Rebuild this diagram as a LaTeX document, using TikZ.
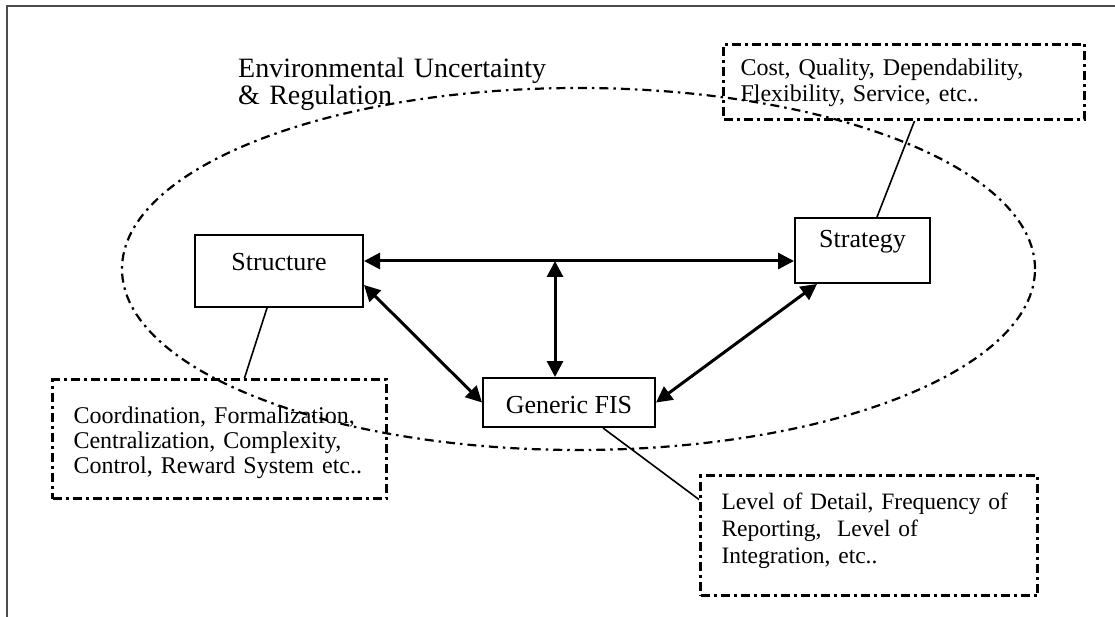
\documentclass[tikz,border=0pt]{standalone}
\usepackage{fontspec}
\setmainfont{Liberation Serif}
\usetikzlibrary{arrows.meta,calc}

\begin{document}
\begin{tikzpicture}[x=1pt,y=-1pt,
  box/.style={draw,line width=2pt,inner sep=0pt,font=\fontsize{26}{30}\selectfont},
  callout/.style={draw,line width=3pt,dash pattern=on 9pt off 4pt on 3pt off 4pt,
    anchor=north west,inner xsep=21pt,inner ysep=0pt,align=left},
  link/.style={line width=1.6pt},
  biarrow/.style={line width=3pt,
    {Triangle[length=16pt,width=16pt]}-{Triangle[length=16pt,width=16pt]}},
  envline/.style={line width=2.2pt,dash pattern=on 9pt off 5pt on 2.5pt off 5pt}]

\useasboundingbox (0,0) rectangle (1115,617);

% page frame
\draw[gray!60!black,line width=1.5pt] (7,617) -- (7,6) -- (1115,6);

% environment
\draw[envline] (578.5,269) ellipse [x radius=456.5pt, y radius=181pt];
\node[anchor=north west,inner sep=0pt,text width=360pt,text height=19pt,align=left,
  font=\fontsize{28}{27}\selectfont] (env) at (238,58)
  {Environmental Uncertainty\\ \& Regulation};

% main blocks
\node[box,minimum width=168pt,minimum height=72pt,text height=15pt,text depth=15pt]
  (struct) at (279,271) {Structure};
\node[box,minimum width=135pt,minimum height=65pt,text height=20pt,text depth=25pt]
  (strat) at (862.5,250.5) {Strategy};
\node[box,minimum width=172pt,minimum height=49pt,text height=31pt,text depth=9pt]
  (fis) at (569,402.5) {Generic FIS};

% attribute boxes
\node[callout,text width=292pt,text height=44pt,text depth=75pt,
  font=\fontsize{24}{25}\selectfont] (scall) at (51,378)
  {Coordination, Formalization,\\ Centralization, Complexity,\\ Control, Reward System etc..};
\node[callout,inner xsep=17pt,text width=327pt,text height=31pt,text depth=44pt,
  font=\fontsize{24}{26}\selectfont] (stcall) at (722,43)
  {Cost, Quality, Dependability,\\ Flexibility, Service, etc..};
\node[callout,text width=295pt,text height=34pt,text depth=86pt,
  font=\fontsize{23.5}{27}\selectfont] (fcall) at (699,474)
  {Level of Detail, Frequency of\\ Reporting,~ Level of\\ Integration, etc..};

% links to attribute boxes
\draw[link] ([xshift=-12pt]struct.south) -- ([xshift=25pt]scall.north);
\draw[link] ([xshift=14.5pt]strat.north) -- ([xshift=10.5pt]stcall.south);
\draw[link] ([xshift=34pt]fis.south) -- ([yshift=36pt]fcall.west);

% relationships
\coordinate (hub) at (555,261);
\draw[biarrow] ([yshift=10pt]struct.east) -- ([yshift=-10.5pt]strat.west);
\draw[biarrow] (hub) -- (hub |- fis.north);
\draw[biarrow] ([yshift=-14pt]struct.east) -- (fis.west);
\draw[biarrow] (fis.east) -- ([xshift=23pt]strat.south west);

\end{tikzpicture}
\end{document}
